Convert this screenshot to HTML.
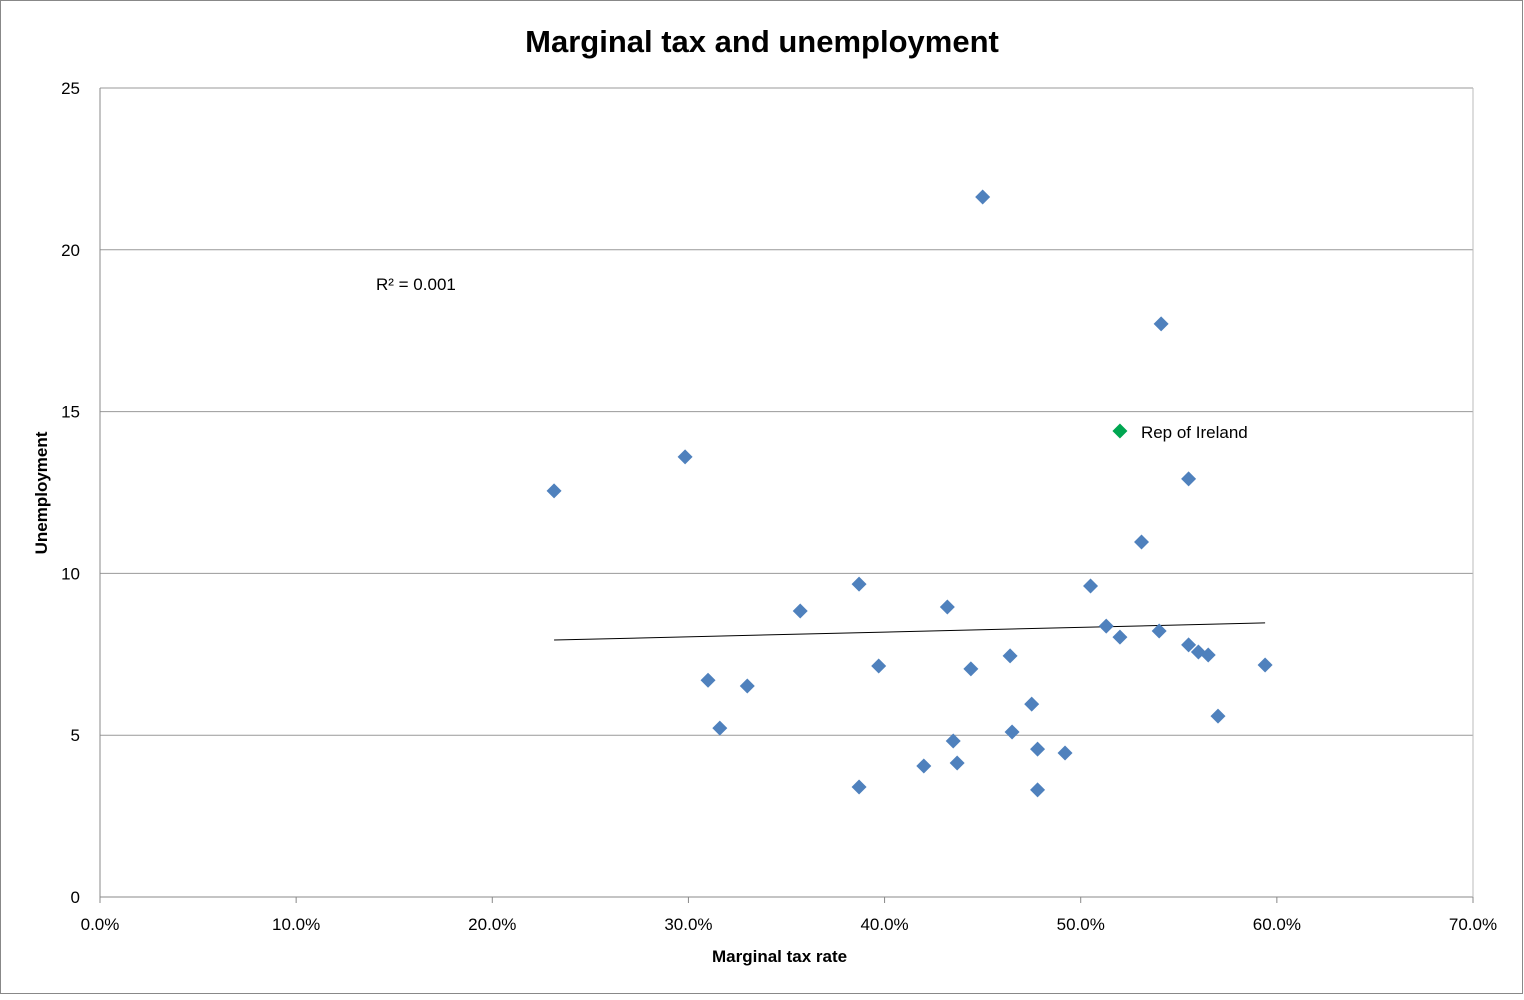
<!DOCTYPE html>
<html><head><meta charset="utf-8"><style>
body{margin:0;background:#fff;}
svg text{font-family:"Liberation Sans",sans-serif;}
</style></head><body>
<svg id="chart" width="1524" height="995" xmlns="http://www.w3.org/2000/svg">
<rect x="0.5" y="0.5" width="1522" height="993" fill="#fff" stroke="#888"/>
<text x="762" y="52" text-anchor="middle" font-size="31" font-weight="bold">Marginal tax and unemployment</text>
<g id="grid"></g><g id="axes"></g><g id="marks"></g>
<text x="712" y="962" font-size="17" font-weight="bold">Marginal tax rate</text>
<text transform="translate(47,493) rotate(-90)" text-anchor="middle" font-size="17" font-weight="bold">Unemployment</text>
<text x="376" y="290" font-size="17">R² = 0.001</text>
</svg>
<script>
const taxRates=[23.15,29.83,31.0,31.6,33.0,35.7,38.7,38.7,39.7,42.0,43.2,43.5,43.7,44.4,45.0,46.4,46.5,47.5,47.8,47.8,49.2,50.5,51.3,52.0,53.1,54.0,54.1,55.5,55.5,56.0,56.5,57.0,59.4];
const unemployment=[12.55,13.6,6.7,5.22,6.52,8.84,9.67,3.4,7.14,4.05,8.96,4.82,4.14,7.05,21.63,7.45,5.1,5.96,4.57,3.31,4.45,9.61,8.37,8.03,10.97,8.22,17.71,12.92,7.79,7.57,7.48,5.59,7.17];
const irelandPoint=[52.0,14.4];
const xTicks=[0,10,20,30,40,50,60,70];
const yTicks=[0,5,10,15,20,25];
const trendStart=[23.15,7.94];
const trendEnd=[59.4,8.47];
const NS="http://www.w3.org/2000/svg";
const X0=100,X1=1473,Y0=897,Y1=88;
const sx=v=>X0+(v/70)*(X1-X0);
const sy=v=>Y0-(v/25)*(Y0-Y1);
function mk(tag,attrs,parent){const e=document.createElementNS(NS,tag);for(const k in attrs)e.setAttribute(k,attrs[k]);document.getElementById(parent).appendChild(e);return e;}
yTicks.forEach(t=>{
  const l=mk('line',{x1:X0,x2:X1,y1:sy(t),y2:sy(t),stroke:t===0?'#888':'#999','stroke-width':1},'grid');
  
  
  const tx=mk('text',{x:80,y:sy(t)+6,'text-anchor':'end','font-size':17},'axes');tx.textContent=t;
  
  
});
const ax=mk('line',{x1:X0,x2:X0,y1:Y1,y2:Y0,stroke:'#888'},'axes');


mk('line',{x1:X1,x2:X1,y1:Y1,y2:Y0,stroke:'#bbb'},'axes');
xTicks.forEach(t=>{
  const tk=mk('line',{x1:sx(t),x2:sx(t),y1:Y0,y2:Y0+6,stroke:'#888'},'axes');
  
  
  const tx=mk('text',{x:sx(t),y:930,'text-anchor':'middle','font-size':17},'axes');tx.textContent=t.toFixed(1)+'%';
  
  
});
const tl=mk('line',{x1:sx(trendStart[0]),y1:sy(trendStart[1]),x2:sx(trendEnd[0]),y2:sy(trendEnd[1]),stroke:'#000','stroke-width':1},'marks');


function diamond(x,y,c){const s=7.5;return mk('polygon',{points:`${x},${y-s} ${x+s},${y} ${x},${y+s} ${x-s},${y}`,fill:c},'marks');}
taxRates.forEach((v,i)=>{
  const d=diamond(sx(v),sy(unemployment[i]),'#4f81bd');
  
  
});
const ir=diamond(sx(irelandPoint[0]),sy(irelandPoint[1]),'#00a651');


const il=mk('text',{x:sx(irelandPoint[0])+21,y:sy(irelandPoint[1])+7,'font-size':17},'marks');il.textContent='Rep of Ireland';


</script>
</body></html>
